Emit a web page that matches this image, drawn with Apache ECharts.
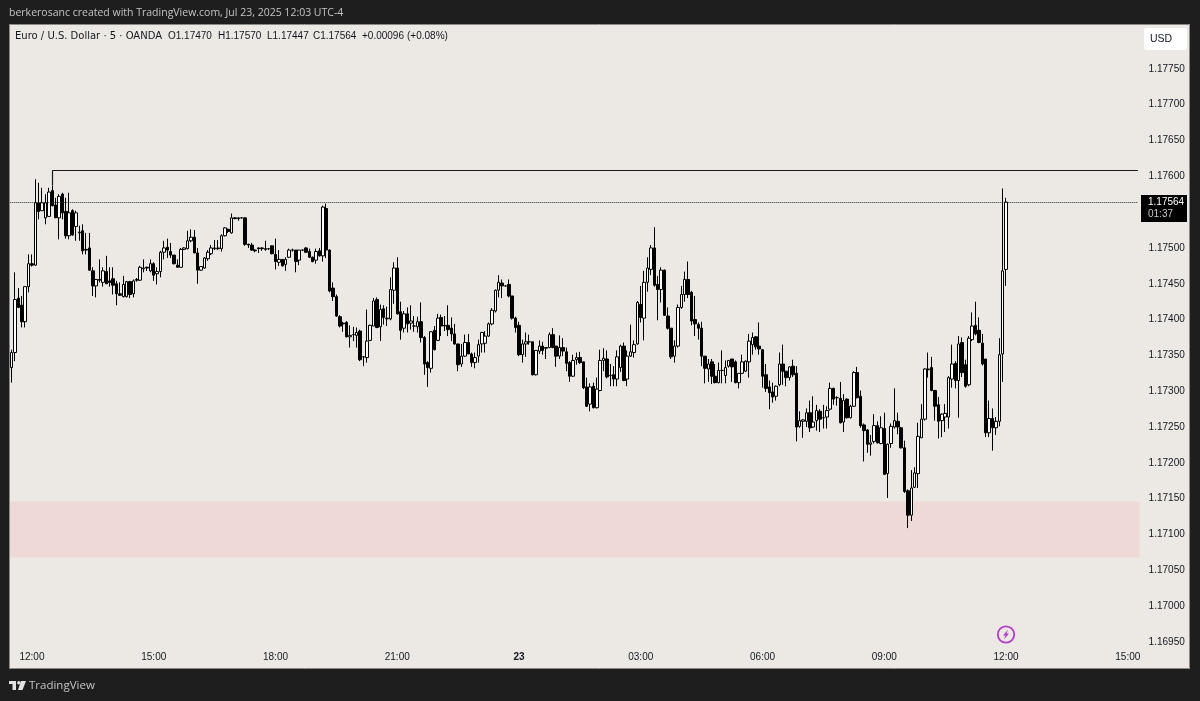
<!DOCTYPE html>
<html><head><meta charset="utf-8">
<style>html,body{margin:0;padding:0;background:#1e1e1e}#c{width:1200px;height:701px}</style>
<script src="https://cdn.jsdelivr.net/npm/echarts@6/dist/echarts.min.js"></script>
</head><body><div id="c"></div>
<script>
// Prices are stored as points above this base: price = base + points / 100000
const base = 1.16;
const opens = [
1368,1333,1354,1430,1420,1397,1446,1478,1476,1563,
1552,1542,1544,1580,1560,1542,1575,1551,1517,1552,
1530,1521,1524,1498,1500,1468,1447,1456,1452,1467,
1454,1457,1450,1436,1432,1432,1453,1436,1456,1455,
1471,1473,1468,1478,1464,1467,1494,1501,1495,1490,
1476,1473,1498,1499,1510,1515,1493,1469,1472,1485,
1492,1499,1500,1499,1517,1526,1521,1542,1542,1542,
1542,1505,1504,1497,1500,1500,1499,1499,1503,1491,
1480,1484,1477,1487,1497,1497,1483,1497,1500,1495,
1487,1483,1496,1489,1555,1497,1444,1432,1404,1395,
1396,1376,1379,1378,1384,1348,1347,1371,1391,1428,
1390,1415,1402,1401,1441,1472,1411,1388,1408,1395,
1391,1390,1397,1375,1340,1332,1385,1371,1403,1392,
1392,1388,1380,1366,1338,1349,1368,1352,1340,1349,
1366,1367,1377,1394,1412,1441,1451,1447,1449,1433,
1402,1392,1351,1366,1369,1369,1323,1356,1363,1360,
1361,1379,1363,1349,1361,1355,1340,1321,1344,1347,
1341,1306,1282,1307,1277,1301,1343,1345,1322,1323,
1317,1333,1363,1317,1349,1354,1366,1421,1402,1452,
1470,1500,1449,1442,1469,1405,1388,1349,1363,1417,
1435,1456,1438,1400,1393,1388,1349,1331,1341,1321,
1312,1329,1322,1335,1345,1341,1312,1325,1328,1341,
1365,1376,1363,1358,1323,1306,1299,1293,1309,1338,
1328,1319,1335,1325,1251,1258,1258,1270,1250,1259,
1272,1263,1264,1275,1304,1291,1290,1257,1289,1263,
1279,1326,1293,1253,1246,1226,1230,1252,1227,1248,
1185,1227,1250,1258,1249,1221,1161,1127,1166,1185,
1235,1261,1331,1333,1301,1281,1259,1264,1264,1317,
1339,1315,1368,1337,1309,1372,1392,1385,1367,1345,
1242,1262,1249,1258,1352,1470];
const closes = [
1333,1354,1428,1417,1397,1446,1478,1476,1563,1551,
1563,1563,1578,1559,1542,1572,1549,1517,1549,1518,
1549,1522,1496,1497,1469,1447,1456,1455,1468,1450,
1452,1448,1436,1434,1449,1453,1435,1454,1455,1473,
1472,1472,1478,1462,1467,1494,1500,1497,1490,1478,
1473,1498,1500,1510,1515,1493,1469,1474,1486,1494,
1500,1500,1499,1517,1528,1523,1542,1541,1541,1542,
1505,1504,1497,1496,1499,1499,1498,1499,1492,1481,
1484,1475,1484,1497,1497,1481,1497,1497,1494,1487,
1481,1495,1489,1557,1497,1440,1432,1405,1391,1394,
1376,1378,1379,1382,1344,1348,1370,1392,1426,1389,
1414,1403,1401,1442,1472,1408,1385,1408,1394,1398,
1391,1397,1375,1338,1333,1383,1358,1402,1391,1391,
1386,1380,1366,1337,1349,1368,1352,1340,1347,1365,
1382,1377,1394,1413,1441,1452,1447,1447,1433,1402,
1389,1351,1366,1369,1369,1323,1357,1363,1357,1361,
1379,1361,1349,1361,1356,1339,1321,1343,1347,1340,
1305,1279,1306,1277,1303,1343,1346,1320,1322,1317,
1348,1363,1315,1349,1355,1365,1424,1403,1452,1472,
1500,1448,1442,1469,1406,1388,1348,1363,1417,1435,
1456,1435,1398,1394,1388,1349,1332,1338,1321,1312,
1329,1329,1333,1343,1334,1312,1325,1341,1342,1370,
1375,1362,1359,1321,1304,1298,1292,1307,1338,1328,
1319,1334,1323,1250,1259,1260,1270,1249,1257,1273,
1261,1263,1273,1304,1289,1291,1256,1287,1263,1279,
1326,1291,1252,1245,1226,1228,1252,1228,1249,1184,
1226,1251,1259,1250,1221,1160,1127,1165,1186,1237,
1261,1331,1330,1301,1279,1258,1268,1269,1319,1338,
1315,1366,1326,1307,1374,1391,1380,1368,1338,1242,
1262,1249,1258,1351,1468,1564];
const highs = [
1370,1358,1466,1444,1433,1446,1491,1491,1596,1591,
1584,1575,1584,1587,1570,1575,1577,1570,1577,1554,
1552,1531,1533,1521,1521,1473,1456,1484,1473,1489,
1473,1473,1454,1452,1461,1454,1454,1456,1458,1475,
1484,1474,1484,1480,1473,1496,1510,1513,1507,1490,
1484,1500,1501,1524,1526,1525,1500,1474,1487,1497,
1504,1511,1511,1519,1529,1527,1548,1543,1542,1543,
1543,1506,1507,1498,1501,1501,1510,1499,1503,1513,
1497,1484,1487,1499,1499,1497,1497,1498,1501,1499,
1488,1499,1500,1559,1562,1498,1452,1435,1406,1397,
1398,1392,1390,1389,1386,1349,1414,1393,1430,1431,
1421,1420,1418,1459,1480,1487,1425,1412,1417,1420,
1405,1404,1424,1377,1342,1384,1391,1408,1407,1405,
1420,1403,1394,1366,1366,1379,1380,1354,1354,1372,
1383,1384,1396,1416,1442,1462,1456,1447,1456,1433,
1404,1397,1372,1382,1379,1369,1357,1371,1369,1361,
1382,1388,1363,1378,1374,1361,1342,1351,1354,1355,
1341,1319,1311,1312,1319,1358,1360,1357,1338,1335,
1357,1365,1368,1357,1393,1371,1426,1447,1468,1487,
1504,1529,1461,1473,1470,1417,1388,1371,1421,1447,
1467,1481,1440,1433,1396,1397,1349,1345,1345,1338,
1340,1357,1343,1343,1345,1343,1325,1351,1343,1380,
1382,1377,1396,1359,1338,1315,1312,1308,1354,1365,
1328,1335,1344,1335,1272,1261,1276,1287,1293,1281,
1275,1281,1279,1312,1305,1293,1313,1296,1290,1281,
1328,1334,1301,1255,1247,1239,1268,1258,1265,1270,
1227,1255,1304,1270,1250,1231,1163,1190,1194,1256,
1282,1332,1354,1348,1302,1292,1269,1282,1321,1365,
1342,1377,1375,1344,1377,1410,1425,1403,1380,1345,
1287,1276,1264,1374,1583,1570];
const lows = [
1330,1312,1342,1416,1389,1389,1438,1474,1475,1540,
1552,1533,1544,1558,1542,1512,1540,1513,1512,1517,
1510,1510,1491,1491,1468,1433,1431,1452,1446,1450,
1446,1435,1420,1433,1431,1431,1430,1431,1453,1454,
1466,1468,1466,1454,1449,1459,1484,1486,1486,1477,
1473,1473,1497,1498,1508,1493,1450,1468,1471,1482,
1490,1497,1497,1495,1516,1521,1520,1540,1538,1541,
1503,1500,1496,1494,1493,1496,1496,1497,1491,1470,
1475,1474,1468,1486,1495,1466,1476,1496,1493,1486,
1480,1478,1488,1481,1486,1438,1426,1404,1389,1383,
1375,1361,1370,1361,1342,1335,1340,1370,1391,1388,
1370,1393,1391,1399,1422,1407,1372,1382,1382,1386,
1383,1382,1368,1323,1306,1326,1357,1370,1377,1384,
1377,1370,1365,1328,1334,1348,1352,1334,1332,1340,
1354,1354,1376,1392,1410,1431,1430,1446,1431,1400,
1382,1349,1340,1348,1365,1322,1322,1352,1351,1345,
1360,1360,1334,1345,1349,1328,1313,1320,1337,1338,
1303,1278,1272,1276,1276,1300,1328,1318,1307,1307,
1307,1327,1314,1307,1348,1347,1365,1396,1371,1439,
1462,1446,1399,1424,1405,1386,1345,1340,1361,1415,
1425,1430,1392,1377,1372,1335,1311,1313,1310,1311,
1311,1311,1311,1333,1313,1311,1304,1324,1327,1319,
1351,1358,1351,1305,1299,1275,1284,1287,1307,1309,
1307,1315,1320,1230,1249,1235,1250,1243,1249,1245,
1243,1248,1248,1273,1281,1280,1255,1243,1262,1262,
1278,1290,1249,1202,1214,1210,1227,1227,1226,1183,
1151,1221,1248,1240,1220,1158,1109,1119,1165,1165,
1260,1259,1319,1300,1259,1234,1236,1243,1248,1305,
1304,1263,1320,1305,1307,1370,1378,1367,1336,1236,
1236,1217,1239,1251,1313,1447];

const lastPrice = 1.17564;
const resistancePrice = 1.17608;
const resistanceStartPrice = 1.17587;
const resistanceStartSlot = 13;
const zoneTop = 1.17146;
const zoneBottom = 1.17068;
const slotCount = 335;      // 5-minute slots, including empty future slots
const startMinute = 11 * 60 + 25;
const dayLabel = '23';
const headerText = 'berkerosanc created with TradingView.com, Jul 23, 2025 12:03 UTC-4';
const legendName = 'Euro / U.S. Dollar \u00b7 5 \u00b7 OANDA';
const legendO = 'O1.17470', legendH = 'H1.17570', legendL = 'L1.17447', legendC = 'C1.17564';
const legendChange = '+0.00096', legendPct = '(+0.08%)';
const priceTag = '1.17564';
const countdown = '01:37';

const px = v => +(base + v / 100000).toFixed(5);
const categories = [];
for (let k = 0; k < slotCount; k++) {
  const m = (startMinute + 5 * k) % 1440;
  categories.push(String(Math.floor(m / 60)).padStart(2, '0') + ':' + String(m % 60).padStart(2, '0'));
}
const candles = opens.map((o, i) => {
  const c = closes[i];
  return [px(o), px(c), px(Math.min(lows[i], o, c)), px(Math.max(highs[i], o, c))];
});

const dark = '#1e1e1e', panel = '#ece9e4', ink = '#131722';
const uiFont = '"Open Sans", sans-serif';
const numFont = '"Liberation Sans", sans-serif';
const lbl = (x, text, size, font) => ({ type: 'text', z: 60, style: { x, y: 36, text, fill: ink, font: size + 'px ' + font, verticalAlign: 'middle' } });
const chart = echarts.init(document.getElementById('c'), null, { renderer: 'canvas', width: 1200, height: 701 });
chart.setOption({
  animation: false,
  backgroundColor: panel,
  grid: { left: 6.62, top: 33, width: 1133, height: 609 },
  xAxis: {
    type: 'category', data: categories, boundaryGap: true,
    axisLine: { show: false }, axisTick: { show: false }, splitLine: { show: false },
    axisLabel: {
      interval: (idx, v) => v.slice(3) === '00' && +v.slice(0, 2) % 3 === 0,
      margin: 10, fontSize: 10, color: ink, fontFamily: numFont,
      formatter: v => v === '00:00' ? '{d|' + dayLabel + '}' : v,
      rich: { d: { fontWeight: 'bold', fontSize: 10, color: ink, fontFamily: numFont } }
    }
  },
  yAxis: {
    type: 'value', position: 'right', min: 1.1695, max: 1.178, interval: 0.0005,
    axisLine: { show: false }, axisTick: { show: false }, splitLine: { show: false },
    axisLabel: {
      margin: 9, fontSize: 10, color: ink, fontFamily: numFont,
      formatter: v => v > 1.1776 ? '' : v.toFixed(5)
    }
  },
  series: [{
    type: 'candlestick', data: candles, barWidth: 3,
    itemStyle: { color: '#ffffff', color0: '#000000', borderColor: '#000000', borderColor0: '#000000', borderWidth: 1 },
    markArea: {
      silent: true,
      itemStyle: { color: '#eed9d7' },
      data: [[{ yAxis: zoneTop }, { yAxis: zoneBottom }]]
    },
    markLine: {
      silent: true, symbol: 'none', label: { show: false },
      data: [
        [{ coord: [0, lastPrice], lineStyle: { color: '#2a2e39', width: 1, type: [1, 1] } },
         { coord: [slotCount - 1, lastPrice] }],
        [{ coord: [resistanceStartSlot, resistancePrice], lineStyle: { color: '#1c1c1c', width: 1.2, type: 'solid' } },
         { coord: [slotCount - 1, resistancePrice] }],
        [{ coord: [resistanceStartSlot, resistanceStartPrice], lineStyle: { color: '#1c1c1c', width: 1.2, type: 'solid' } },
         { coord: [resistanceStartSlot, resistancePrice] }]
      ]
    }
  }],
  graphic: { elements: [
    { type: 'rect', z: 50, shape: { x: 0, y: 0, width: 1200, height: 24 }, style: { fill: dark } },
    { type: 'rect', z: 50, shape: { x: 0, y: 669, width: 1200, height: 32 }, style: { fill: dark } },
    { type: 'rect', z: 50, shape: { x: 0, y: 0, width: 9.5, height: 701 }, style: { fill: dark } },
    { type: 'rect', z: 50, shape: { x: 1190, y: 0, width: 10, height: 701 }, style: { fill: dark } },
    { type: 'rect', z: 51, shape: { x: 9.5, y: 24.5, width: 1180, height: 644 }, style: { fill: 'none', stroke: '#8a8a88', lineWidth: 1 } },
    { type: 'text', z: 60, style: { x: 9, y: 13, text: headerText, fill: '#c4c4c4', font: '10.5px ' + uiFont, verticalAlign: 'middle' } },
    lbl(15, legendName, 10, '"DejaVu Sans", sans-serif'),
    lbl(168, legendO, 10, numFont), lbl(218, legendH, 10, numFont), lbl(267, legendL, 10, numFont),
    lbl(313, legendC, 10, numFont), lbl(362, legendChange, 10, numFont), lbl(407, legendPct, 10, numFont),
    { type: 'rect', z: 60, shape: { x: 1144, y: 28, width: 43, height: 22, r: 3 }, style: { fill: '#ffffff' } },
    { type: 'text', z: 61, style: { x: 1161, y: 39, text: 'USD', fill: ink, font: '10.5px ' + numFont, align: 'center', verticalAlign: 'middle' } },
    { type: 'rect', z: 60, shape: { x: 1141, y: 195, width: 46, height: 27 }, style: { fill: '#000000' } },
    { type: 'text', z: 61, style: { x: 1148, y: 202, text: priceTag, fill: '#ffffff', font: '10px ' + numFont, verticalAlign: 'middle' } },
    { type: 'text', z: 61, style: { x: 1148, y: 214, text: countdown, fill: '#c9c9c9', font: '10px ' + numFont, verticalAlign: 'middle' } },
    { type: 'circle', z: 60, shape: { cx: 1006, cy: 634.5, r: 8.2 }, style: { fill: panel, stroke: '#b03cc7', lineWidth: 1.8 } },
    { type: 'polygon', z: 61, shape: { points: [[1008, 629.5], [1003, 635.5], [1005.5, 635.5], [1004, 639.5], [1009, 633.5], [1006.5, 633.5]] }, style: { fill: '#b03cc7' } },
    { type: 'polygon', z: 60, shape: { points: [[9, 681], [16, 681], [16, 690], [12.5, 690], [12.5, 684], [9, 684]] }, style: { fill: '#e2e2e2' } },
    { type: 'circle', z: 60, shape: { cx: 18.8, cy: 682.7, r: 1.7 }, style: { fill: '#e2e2e2' } },
    { type: 'polygon', z: 60, shape: { points: [[21, 681], [26, 681], [22.5, 690], [18, 690]] }, style: { fill: '#e2e2e2' } },
    { type: 'text', z: 60, style: { x: 29, y: 685.5, text: 'TradingView', fill: '#c4c4c4', font: '11.5px ' + uiFont, verticalAlign: 'middle' } }
  ] }
});
</script></body></html>
